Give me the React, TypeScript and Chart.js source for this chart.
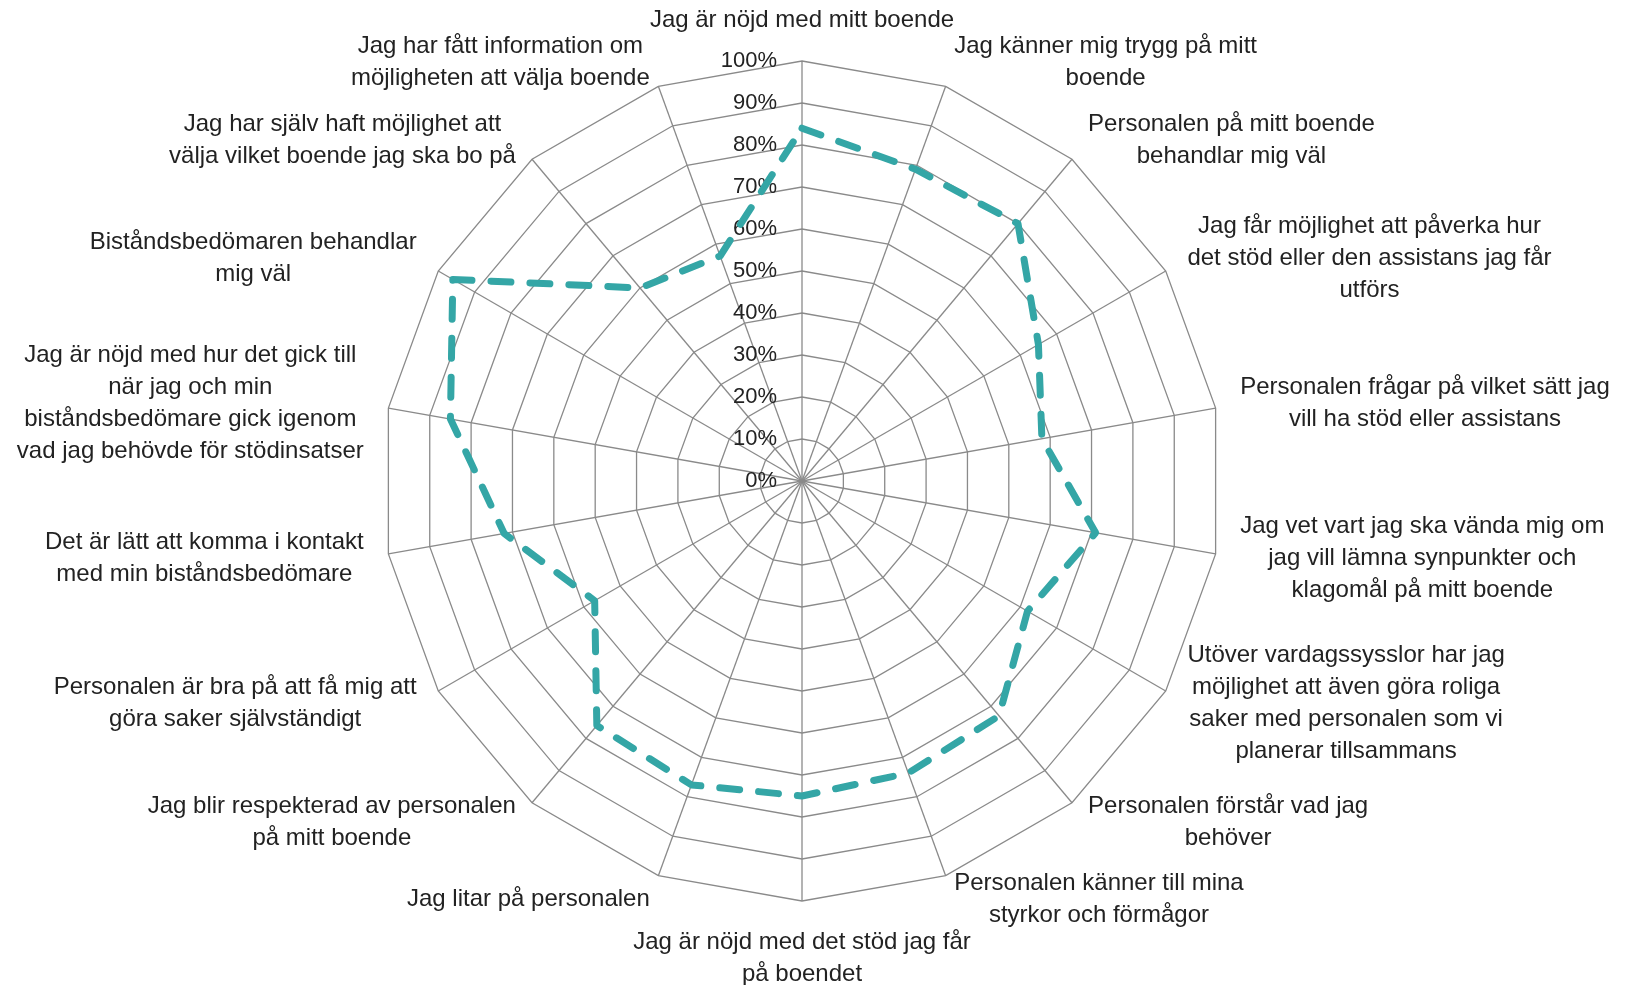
import { useEffect, useRef } from "react";
import { Chart, registerables } from "chart.js";

Chart.register(...registerables);

const categories: (string | string[])[] = [
  "Jag är nöjd med mitt boende",
  ["Jag känner mig trygg på mitt", "boende"],
  ["Personalen på mitt boende", "behandlar mig väl"],
  ["Jag får möjlighet att påverka hur", "det stöd eller den assistans jag får", "utförs"],
  ["Personalen frågar på vilket sätt jag", "vill ha stöd eller assistans"],
  ["Jag vet vart jag ska vända mig om", "jag vill lämna synpunkter och", "klagomål på mitt boende"],
  ["Utöver vardagssysslor har jag", "möjlighet att även göra roliga", "saker med personalen som vi", "planerar tillsammans"],
  ["Personalen förstår vad jag", "behöver"],
  ["Personalen känner till mina", "styrkor och förmågor"],
  ["Jag är nöjd med det stöd jag får", "på boendet"],
  "Jag litar på personalen",
  ["Jag blir respekterad av personalen", "på mitt boende"],
  ["Personalen är bra på att få mig att", "göra saker självständigt"],
  ["Det är lätt att komma i kontakt", "med min biståndsbedömare"],
  ["Jag är nöjd med hur det gick till", "när jag och min", "biståndsbedömare gick igenom", "vad jag behövde för stödinsatser"],
  ["Biståndsbedömaren behandlar", "mig väl"],
  ["Jag har själv haft möjlighet att", "välja vilket boende jag ska bo på"],
  ["Jag har fått information om", "möjligheten att välja boende"],
];

const values: number[] = [84, 79, 80, 65, 58, 71, 62, 73, 74, 75, 77, 76, 57, 72, 85, 96, 60, 57];

const tickMin = 0;
const tickMax = 100;
const tickStep = 10;

const TEXT_COLOR = "#222222";
const GRID_COLOR = "#8a8a8a";
const LINE_COLOR = "#34a6a6";
const LABEL_FONT = '24px "Liberation Sans", Arial, sans-serif';
const TICK_FONT = '22px "Liberation Sans", Arial, sans-serif';
const LINE_HEIGHT = 32;

const labelPlugin = {
  id: "excelLabels",
  beforeDatasetsDraw(chart: any) {
    const scale = chart.scales.r;
    const ctx = chart.ctx as CanvasRenderingContext2D;
    ctx.save();
    // tick labels, right-aligned left of the top spoke
    ctx.font = TICK_FONT;
    ctx.fillStyle = TEXT_COLOR;
    ctx.textAlign = "right";
    ctx.textBaseline = "middle";
    scale.ticks.forEach((t: any) => {
      const d = scale.getDistanceFromCenterForValue(t.value);
      ctx.fillText(`${t.value}%`, scale.xCenter - 25, scale.yCenter - d);
    });
    // point labels, multi-line centred
    ctx.font = LABEL_FONT;
    ctx.textAlign = "center";
    const labels = chart.data.labels as (string | string[])[];
    const n = labels.length;
    labels.forEach((lab, i) => {
      const lines = Array.isArray(lab) ? lab : [lab];
      const p = scale.getPointPosition(i, scale.drawingArea + 25);
      const deg = Math.round((i * 360) / n) % 360;
      const w = Math.max(...lines.map((l) => ctx.measureText(l).width));
      const h = lines.length * LINE_HEIGHT;
      let cx: number;
      let top: number;
      if (deg === 0) {
        cx = p.x;
        top = p.y - h;
      } else if (deg === 180) {
        cx = p.x;
        top = p.y;
      } else if (deg < 180) {
        cx = p.x + w / 2;
        top = p.y - h / 2;
      } else {
        cx = p.x - w / 2;
        top = p.y - h / 2;
      }
      lines.forEach((l, k) => ctx.fillText(l, cx, top + LINE_HEIGHT * (k + 0.5)));
    });
    ctx.restore();
  },
};

export default function App() {
  const ref = useRef<HTMLCanvasElement | null>(null);

  useEffect(() => {
    document.body.style.margin = "0";
    const canvas = ref.current;
    if (!canvas) return;
    const chart = new Chart(canvas, {
      type: "radar",
      data: {
        labels: categories,
        datasets: [
          {
            data: values,
            fill: false,
            borderColor: LINE_COLOR,
            borderWidth: 7,
            borderDash: [20, 19],
            borderCapStyle: "round",
            borderJoinStyle: "round",
            pointRadius: 0,
            pointHoverRadius: 0,
            tension: 0,
          },
        ],
      },
      options: {
        responsive: false,
        animation: false,
        events: [],
        layout: { padding: { left: 382, right: 407, top: 61, bottom: 84 } },
        plugins: {
          legend: { display: false },
          tooltip: { enabled: false },
          title: { display: false },
        },
        scales: {
          r: {
            min: tickMin,
            max: tickMax,
            beginAtZero: true,
            startAngle: 0,
            ticks: { display: false, stepSize: tickStep },
            pointLabels: { display: false },
            grid: { color: GRID_COLOR, lineWidth: 1.3, circular: false },
            angleLines: { color: GRID_COLOR, lineWidth: 1.3 },
          },
        },
      },
      plugins: [labelPlugin],
    } as any);
    return () => chart.destroy();
  }, []);

  return (
    <div style={{ position: "fixed", left: 0, top: 0, width: 1629, height: 985, background: "#ffffff" }}>
      <canvas ref={ref} width={1629} height={985} style={{ width: 1629, height: 985, display: "block" }} />
    </div>
  );
}
